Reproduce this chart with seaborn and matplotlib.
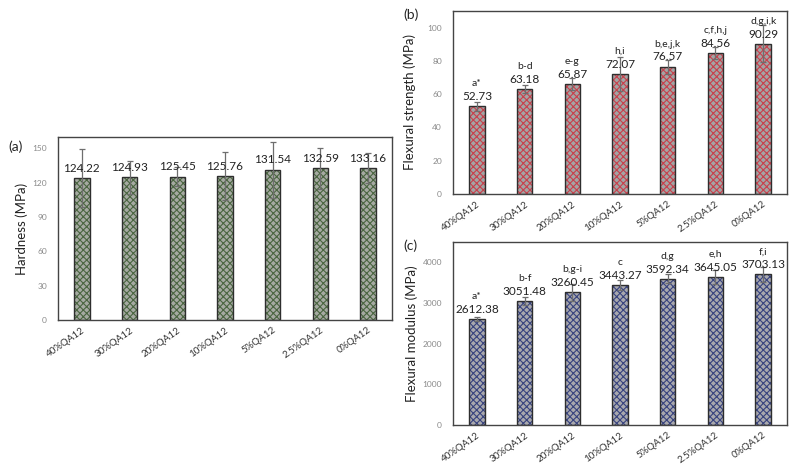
import numpy as np
import pandas as pd
import matplotlib
matplotlib.use('Agg')
import matplotlib.pyplot as plt
import seaborn as sns

groups = ['40%QA12', '30%QA12', '20%QA12', '10%QA12', '5%QA12', '2.5%QA12', '0%QA12']
hardness = [124.22, 124.93, 125.45, 125.76, 131.54, 132.59, 133.16]
hardness_err = [25, 14.5, 8, 21, 24.5, 18, 13]
strength = [52.73, 63.18, 65.87, 72.07, 76.57, 84.56, 90.29]
strength_err = [2.8, 2.4, 3.6, 10, 4.2, 3.6, 11]
strength_sig = ['a*', 'b-d', 'e-g', 'h,i', 'b,e,j,k', 'c,f,h,j', 'd,g,i,k']
modulus = [2612.38, 3051.48, 3260.45, 3443.27, 3592.34, 3645.05, 3703.13]
modulus_err = [45, 90, 205, 125, 110, 175, 190]
modulus_sig = ['a*', 'b-f', 'b,g-i', 'c', 'd,g', 'e,h', 'f,i']

hardness_ticks = [0, 30, 60, 90, 120, 150]
strength_ticks = [0, 20, 40, 60, 80, 100]
modulus_ticks = [0, 1000, 2000, 3000, 4000]

sns.set_theme(style='white')
plt.rcParams['font.family'] = ['Lato', 'DejaVu Sans']
plt.rcParams['hatch.linewidth'] = 0.8

fig = plt.figure(figsize=(7.98, 4.66), dpi=100)
ax_a = fig.add_axes([0.0727, 0.3133, 0.4185, 0.3927])
ax_b = fig.add_axes([0.5677, 0.5837, 0.4185, 0.3927])
ax_c = fig.add_axes([0.5677, 0.0880, 0.4185, 0.3927])


def panel(ax, vals, errs, sig, hatch_col, base_col, ylim, ticks, ylabel, fmt_gap):
    df = pd.DataFrame({'group': groups, 'value': vals})
    sns.barplot(data=df, x='group', y='value', color=base_col, width=0.32,
                errorbar=None, ax=ax, saturation=1)
    for p in ax.patches:
        p.set_hatch('xxxxx')
        p.set_edgecolor(hatch_col)
        p.set_linewidth(0)
    sns.barplot(data=df, x='group', y='value', width=0.32, fill=False,
                errorbar=None, ax=ax, color='#2e2e2e', linewidth=1.0)
    xs = np.arange(len(groups))
    ax.errorbar(xs, vals, yerr=errs, fmt='none', ecolor='#6e6e6e',
                elinewidth=0.9, capsize=2.5, capthick=0.9, zorder=5)
    for x, v, i in zip(xs, vals, range(len(vals))):
        ax.annotate(f'{v:.2f}', (x, v), xytext=(0, 3), textcoords='offset points',
                    ha='center', va='bottom', fontsize=8.5, color='#222222', zorder=6)
        if sig is not None:
            ax.annotate(sig[i], (x, v), xytext=(0, 3 + fmt_gap), textcoords='offset points',
                        ha='center', va='bottom', fontsize=7.5, color='#222222', zorder=6)
    ax.set_xlim(-0.5, len(groups) - 0.5)
    ax.set_ylim(*ylim)
    ax.set_yticks(ticks)
    ax.set_yticklabels([str(t) for t in ticks], fontsize=6, color='#8a8a8a')
    ax.set_xticks(xs)
    ax.set_xticklabels(groups, rotation=35, ha='right', rotation_mode='anchor',
                       fontsize=7, color='#333333')
    ax.tick_params(axis='both', length=0)
    ax.tick_params(axis='y', pad=8)
    ax.tick_params(axis='x', pad=4)
    ax.set_xlabel('')
    ax.set_ylabel(ylabel, fontsize=9.5, color='#222222')
    for s in ax.spines.values():
        s.set_color('#444444')
        s.set_linewidth(1.0)


panel(ax_a, hardness, hardness_err, None, '#4a6540', '#a6aaa2', (0, 160),
      hardness_ticks, 'Hardness (MPa)', 10)
panel(ax_b, strength, strength_err, strength_sig, '#c8404c', '#a4a4a4', (0, 110),
      strength_ticks, 'Flexural strength (MPa)', 10)
panel(ax_c, modulus, modulus_err, modulus_sig, '#38437e', '#a8a8ae', (0, 4500),
      modulus_ticks, 'Flexural modulus (MPa)', 10)

ax_a.yaxis.set_label_coords(-0.09, 0.5)
ax_b.yaxis.set_label_coords(-0.11, 0.5)
ax_c.yaxis.set_label_coords(-0.105, 0.5)

fig.text(8 / 798, 1 - 147 / 466, '(a)', fontsize=10, va='center', ha='left')
fig.text(403 / 798, 1 - 15 / 466, '(b)', fontsize=10, va='center', ha='left')
fig.text(403 / 798, 1 - 246 / 466, '(c)', fontsize=10, va='center', ha='left')

fig.savefig('out.png', dpi=100)
